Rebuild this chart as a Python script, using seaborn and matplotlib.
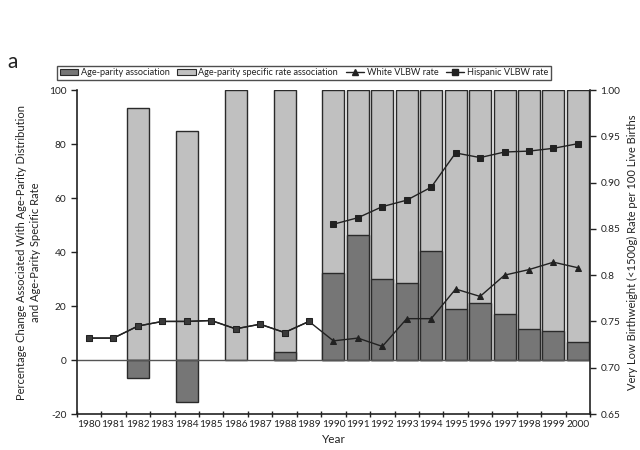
import numpy as np
import pandas as pd
import matplotlib
matplotlib.use("Agg")
import matplotlib.pyplot as plt
import seaborn as sns
from matplotlib.patches import Patch
from matplotlib.lines import Line2D
from matplotlib.ticker import FixedLocator, FixedFormatter

nan = np.nan

# Years on the category axis
years = [str(y) for y in range(1980, 2001)]

# Bar segments (percentage change), NaN = no bar that year
age_parity = [nan, nan, -6.8, nan, -15.4, nan, nan, nan, 2.9, nan,
              32.2, 46.3, 30.0, 28.4, 40.4, 18.8, 21.1, 16.9, 11.6, 10.6, 6.5]
rate_assoc = [nan, nan, 93.2, nan, 84.8, nan, 100.0, nan, 97.1, nan,
              67.8, 53.7, 70.0, 71.6, 59.6, 81.2, 78.9, 83.1, 88.4, 89.4, 93.5]

# VLBW rates (per 100 live births)
early_rate = [0.732, 0.732, 0.745, 0.750, 0.750, 0.751, 0.742, 0.747, 0.738, 0.750]  # 1980-1989
white_rate = [0.729, 0.732, 0.723, 0.753, 0.753, 0.785, 0.777, 0.800, 0.806, 0.814, 0.808]  # 1990-2000
hispanic_rate = [0.855, 0.862, 0.874, 0.881, 0.895, 0.932, 0.927, 0.933, 0.934, 0.937, 0.942]  # 1990-2000

left_ticks = [-20, 0, 20, 40, 60, 80, 100]
right_ticks = [0.65, 0.70, 0.75, 0.80, 0.85, 0.90, 0.95, 1.00]
right_labels = ['0.65', '0.70', '0.75', '0.8', '0.85', '0.90', '0.95', '1.00']

dark_grey = '#767676'
light_grey = '#c0c0c0'
edge = '#2a2a2a'
ink = '#222222'

sns.set_style('ticks')
plt.rcParams['font.family'] = ['Lato', 'DejaVu Sans']
plt.rcParams['text.color'] = ink
plt.rcParams['axes.labelcolor'] = ink
plt.rcParams['xtick.color'] = ink
plt.rcParams['ytick.color'] = ink

df = pd.DataFrame({'year': years, 'dark': age_parity, 'light': rate_assoc})
# light segment sits on top of the positive dark segment, or on zero
df['light_top'] = df['dark'].clip(lower=0).fillna(0) + df['light']

fig = plt.figure(figsize=(6.4, 4.5), dpi=100)
ax = fig.add_axes([0.120, 0.080, 0.802, 0.720])

sns.barplot(data=df, x='year', y='light_top', order=years, color=light_grey,
            saturation=1, edgecolor=edge, linewidth=1.0, width=0.9,
            errorbar=None, ax=ax)
sns.barplot(data=df, x='year', y='dark', order=years, color=dark_grey,
            saturation=1, edgecolor=edge, linewidth=1.0, width=0.9,
            errorbar=None, ax=ax)
ax.axhline(0, color='#555555', lw=1.0, zorder=1)

ax.set_xlim(-0.5, len(years) - 0.5)
ax.set_ylim(-20, 100)
ax.yaxis.set_major_locator(FixedLocator(left_ticks))
ax.set_yticklabels([str(t) for t in left_ticks])
ax.xaxis.set_minor_locator(FixedLocator(np.arange(len(years) + 1) - 0.5))
ax.tick_params(axis='x', which='major', length=0, labelsize=7.3, pad=4)
ax.tick_params(axis='x', which='minor', length=5, width=1, direction='inout')
ax.tick_params(axis='y', length=4, width=1, labelsize=7.3)
ax.set_xlabel('Year', fontsize=8.5, labelpad=4)
ax.set_ylabel('Percentage Change Associated With Age-Parity Distribution\nand Age-Parity Specific Rate',
              fontsize=8, labelpad=6, linespacing=1.3)
for s in ['left', 'bottom']:
    ax.spines[s].set_linewidth(1.2)
    ax.spines[s].set_color(ink)
ax.spines['top'].set_visible(False)
ax.spines['right'].set_visible(False)

ax2 = ax.twinx()
pos = np.arange(len(years))
n_early = len(early_rate)
sns.lineplot(x=pos, y=early_rate + white_rate, color=ink, lw=1.0, marker='^',
             markersize=5, markeredgecolor=ink, ax=ax2)
sns.lineplot(x=pos[:n_early], y=early_rate, color=ink, lw=1.0, marker='s',
             markersize=5, markeredgecolor=ink, markerfacecolor='#3a3a3a', ax=ax2)
sns.lineplot(x=pos[n_early:], y=hispanic_rate, color=ink, lw=1.0, marker='s',
             markersize=5, markeredgecolor=ink, ax=ax2)
ax2.set_ylim(0.65, 1.0)
ax2.yaxis.set_major_locator(FixedLocator(right_ticks))
ax2.yaxis.set_major_formatter(FixedFormatter(right_labels))
ax2.tick_params(axis='y', length=4, width=1, labelsize=7.3)
ax2.set_ylabel('Very Low Birthweight (<1500g) Rate per 100 Live Births',
               fontsize=8, rotation=90, labelpad=5)
for s in ['top', 'left', 'bottom']:
    ax2.spines[s].set_visible(False)
ax2.spines['right'].set_linewidth(1.2)
ax2.spines['right'].set_color(ink)

handles = [
    Patch(facecolor=dark_grey, edgecolor=edge, linewidth=0.8),
    Patch(facecolor=light_grey, edgecolor=edge, linewidth=0.8),
    Line2D([], [], color=ink, lw=1.0, marker='^', markersize=4.5),
    Line2D([], [], color=ink, lw=1.0, marker='s', markersize=4.5),
]
labels = ['Age-parity association', 'Age-parity specific rate association',
          'White VLBW rate', 'Hispanic VLBW rate']
leg = fig.legend(handles, labels, loc='center', bbox_to_anchor=(0.475, 0.838),
                 ncol=4, fontsize=6.6, frameon=True, fancybox=False,
                 edgecolor=ink, borderpad=0.3, handlelength=2.0,
                 handletextpad=0.3, columnspacing=0.8, handleheight=0.7)
leg.get_frame().set_linewidth(1.0)

fig.text(0.012, 0.862, 'a', fontsize=15, va='center', ha='left')

fig.savefig('out.png', dpi=100)
